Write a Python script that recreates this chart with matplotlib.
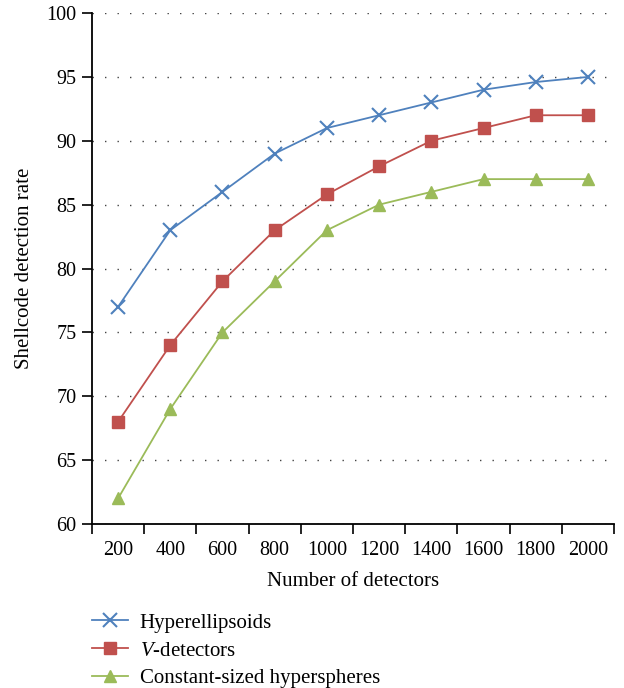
import matplotlib
matplotlib.use("Agg")
import matplotlib.pyplot as plt
import numpy as np

plt.rcParams["font.family"] = "Liberation Serif"
plt.rcParams["mathtext.fontset"] = "custom"
plt.rcParams["mathtext.rm"] = "Liberation Serif"
plt.rcParams["mathtext.it"] = "Liberation Serif:italic"

detectors = ["200", "400", "600", "800", "1000", "1200", "1400", "1600", "1800", "2000"]

hyperellipsoids = [77, 83, 86, 89, 91, 92, 93, 94, 94.6, 95]
v_detectors = [68, 74, 79, 83, 85.8, 88, 90, 91, 92, 92]
hyperspheres = [62, 69, 75, 79, 83, 85, 86, 87, 87, 87]

x = np.arange(len(detectors))

fig = plt.figure(figsize=(6.24, 6.88), dpi=100)
ax = fig.add_axes([0.1474, 0.2384, 0.8366, 0.7426])

ax.plot(x, hyperellipsoids, "x-", color="#4F81BD", lw=1.3, ms=10, mew=1.5,
        label="Hyperellipsoids")
ax.plot(x, v_detectors, "s-", color="#C0504D", lw=1.3, ms=8.5,
        label="$V$-detectors")
ax.plot(x, hyperspheres, "^-", color="#9BBB59", lw=1.3, ms=8.5,
        label="Constant-sized hyperspheres")

ax.set_xlim(-0.5, len(detectors) - 0.5)
ax.set_ylim(60, 100)
ax.set_yticks(range(60, 101, 5))
ax.set_xticks(x)
ax.set_xticklabels(detectors)
ax.set_xticks(np.arange(-0.5, len(detectors)), minor=True)
ax.tick_params(axis="x", which="major", length=0, pad=12, labelsize=14.5)
ax.tick_params(axis="x", which="minor", length=7, width=1.2, direction="out")
ax.tick_params(axis="y", length=7, width=1.2, direction="out", labelsize=14.5, pad=4)

ax.yaxis.grid(True, linestyle=(0, (1, 8)), color="#444444", lw=1.0)
ax.set_axisbelow(True)
for s in ["top", "right"]:
    ax.spines[s].set_visible(False)
for s in ["left", "bottom"]:
    ax.spines[s].set_linewidth(1.3)

ax.set_ylabel("Shellcode detection rate", fontsize=15, labelpad=9)
ax.set_xlabel("Number of detectors", fontsize=15, labelpad=9)

fig.legend(loc="upper left", bbox_to_anchor=(0.147, 0.109), frameon=False,
           fontsize=15, handlelength=1.75, handletextpad=0.55, labelspacing=0.4,
           borderaxespad=0, borderpad=0)

fig.savefig("out.png", dpi=100)
